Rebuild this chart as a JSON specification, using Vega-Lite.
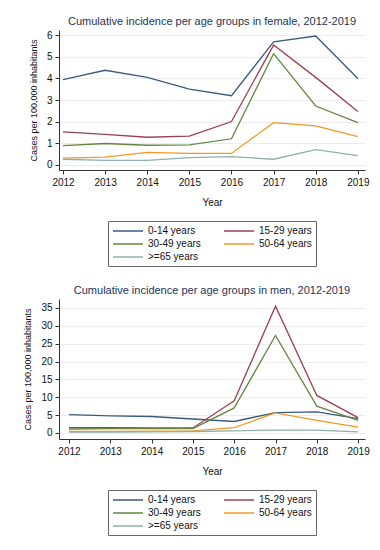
{
  "$schema": "https://vega.github.io/schema/vega-lite/v6.json",
  "padding": {"left": 23, "top": 16, "right": 10, "bottom": 5},
  "background": "white",
  "datasets": {
    "inc": [
      {"sex": "female", "year": 2012, "group": "0-14 years", "value": 3.95},
      {"sex": "female", "year": 2013, "group": "0-14 years", "value": 4.38},
      {"sex": "female", "year": 2014, "group": "0-14 years", "value": 4.05},
      {"sex": "female", "year": 2015, "group": "0-14 years", "value": 3.5},
      {"sex": "female", "year": 2016, "group": "0-14 years", "value": 3.2},
      {"sex": "female", "year": 2017, "group": "0-14 years", "value": 5.7},
      {"sex": "female", "year": 2018, "group": "0-14 years", "value": 5.97},
      {"sex": "female", "year": 2019, "group": "0-14 years", "value": 4.0},
      {"sex": "female", "year": 2012, "group": "15-29 years", "value": 1.52},
      {"sex": "female", "year": 2013, "group": "15-29 years", "value": 1.4},
      {"sex": "female", "year": 2014, "group": "15-29 years", "value": 1.27},
      {"sex": "female", "year": 2015, "group": "15-29 years", "value": 1.32},
      {"sex": "female", "year": 2016, "group": "15-29 years", "value": 2.0},
      {"sex": "female", "year": 2017, "group": "15-29 years", "value": 5.55},
      {"sex": "female", "year": 2018, "group": "15-29 years", "value": 4.05},
      {"sex": "female", "year": 2019, "group": "15-29 years", "value": 2.47},
      {"sex": "female", "year": 2012, "group": "30-49 years", "value": 0.88},
      {"sex": "female", "year": 2013, "group": "30-49 years", "value": 0.98},
      {"sex": "female", "year": 2014, "group": "30-49 years", "value": 0.9},
      {"sex": "female", "year": 2015, "group": "30-49 years", "value": 0.92},
      {"sex": "female", "year": 2016, "group": "30-49 years", "value": 1.2},
      {"sex": "female", "year": 2017, "group": "30-49 years", "value": 5.15},
      {"sex": "female", "year": 2018, "group": "30-49 years", "value": 2.72},
      {"sex": "female", "year": 2019, "group": "30-49 years", "value": 1.95},
      {"sex": "female", "year": 2012, "group": "50-64 years", "value": 0.3},
      {"sex": "female", "year": 2013, "group": "50-64 years", "value": 0.35},
      {"sex": "female", "year": 2014, "group": "50-64 years", "value": 0.57},
      {"sex": "female", "year": 2015, "group": "50-64 years", "value": 0.52},
      {"sex": "female", "year": 2016, "group": "50-64 years", "value": 0.52},
      {"sex": "female", "year": 2017, "group": "50-64 years", "value": 1.95},
      {"sex": "female", "year": 2018, "group": "50-64 years", "value": 1.8},
      {"sex": "female", "year": 2019, "group": "50-64 years", "value": 1.3},
      {"sex": "female", "year": 2012, "group": ">=65 years", "value": 0.25},
      {"sex": "female", "year": 2013, "group": ">=65 years", "value": 0.2},
      {"sex": "female", "year": 2014, "group": ">=65 years", "value": 0.2},
      {"sex": "female", "year": 2015, "group": ">=65 years", "value": 0.32},
      {"sex": "female", "year": 2016, "group": ">=65 years", "value": 0.37},
      {"sex": "female", "year": 2017, "group": ">=65 years", "value": 0.25},
      {"sex": "female", "year": 2018, "group": ">=65 years", "value": 0.7},
      {"sex": "female", "year": 2019, "group": ">=65 years", "value": 0.42},
      {"sex": "men", "year": 2012, "group": "0-14 years", "value": 5.1},
      {"sex": "men", "year": 2013, "group": "0-14 years", "value": 4.8},
      {"sex": "men", "year": 2014, "group": "0-14 years", "value": 4.6},
      {"sex": "men", "year": 2015, "group": "0-14 years", "value": 3.9},
      {"sex": "men", "year": 2016, "group": "0-14 years", "value": 3.2},
      {"sex": "men", "year": 2017, "group": "0-14 years", "value": 5.7},
      {"sex": "men", "year": 2018, "group": "0-14 years", "value": 5.9},
      {"sex": "men", "year": 2019, "group": "0-14 years", "value": 4.0},
      {"sex": "men", "year": 2012, "group": "15-29 years", "value": 1.5},
      {"sex": "men", "year": 2013, "group": "15-29 years", "value": 1.5},
      {"sex": "men", "year": 2014, "group": "15-29 years", "value": 1.4},
      {"sex": "men", "year": 2015, "group": "15-29 years", "value": 1.4},
      {"sex": "men", "year": 2016, "group": "15-29 years", "value": 9.0},
      {"sex": "men", "year": 2017, "group": "15-29 years", "value": 35.5},
      {"sex": "men", "year": 2018, "group": "15-29 years", "value": 10.5},
      {"sex": "men", "year": 2019, "group": "15-29 years", "value": 4.3},
      {"sex": "men", "year": 2012, "group": "30-49 years", "value": 1.1},
      {"sex": "men", "year": 2013, "group": "30-49 years", "value": 1.2},
      {"sex": "men", "year": 2014, "group": "30-49 years", "value": 1.2},
      {"sex": "men", "year": 2015, "group": "30-49 years", "value": 1.2},
      {"sex": "men", "year": 2016, "group": "30-49 years", "value": 7.0},
      {"sex": "men", "year": 2017, "group": "30-49 years", "value": 27.3},
      {"sex": "men", "year": 2018, "group": "30-49 years", "value": 7.5},
      {"sex": "men", "year": 2019, "group": "30-49 years", "value": 3.5},
      {"sex": "men", "year": 2012, "group": "50-64 years", "value": 0.4},
      {"sex": "men", "year": 2013, "group": "50-64 years", "value": 0.4},
      {"sex": "men", "year": 2014, "group": "50-64 years", "value": 0.5},
      {"sex": "men", "year": 2015, "group": "50-64 years", "value": 0.6},
      {"sex": "men", "year": 2016, "group": "50-64 years", "value": 1.5},
      {"sex": "men", "year": 2017, "group": "50-64 years", "value": 5.6},
      {"sex": "men", "year": 2018, "group": "50-64 years", "value": 3.5},
      {"sex": "men", "year": 2019, "group": "50-64 years", "value": 1.6},
      {"sex": "men", "year": 2012, "group": ">=65 years", "value": 0.2},
      {"sex": "men", "year": 2013, "group": ">=65 years", "value": 0.2},
      {"sex": "men", "year": 2014, "group": ">=65 years", "value": 0.3},
      {"sex": "men", "year": 2015, "group": ">=65 years", "value": 0.4},
      {"sex": "men", "year": 2016, "group": ">=65 years", "value": 0.6},
      {"sex": "men", "year": 2017, "group": ">=65 years", "value": 0.8},
      {"sex": "men", "year": 2018, "group": ">=65 years", "value": 0.8},
      {"sex": "men", "year": 2019, "group": ">=65 years", "value": 0.3}
    ]
  },
  "vconcat": [
    {
      "data": {"name": "inc"},
      "transform": [{"filter": "datum.sex === 'female'"}],
      "title": {"text": "Cumulative incidence per age groups in female, 2012-2019"},
      "width": 306,
      "height": 140,
      "mark": {"type": "line", "strokeWidth": 1.3, "clip": true},
      "encoding": {
        "x": {"field": "year", "type": "quantitative", "title": "Year",
              "scale": {"domain": [2011.905, 2019.17], "nice": false, "zero": false},
              "axis": {"values": [2012, 2013, 2014, 2015, 2016, 2017, 2018, 2019], "format": "d"}},
        "y": {"field": "value", "type": "quantitative", "title": "Cases per 100,000 inhabitants",
              "scale": {"domain": [-0.25, 6.25], "nice": false, "zero": false},
              "axis": {"values": [0, 1, 2, 3, 4, 5, 6]}},
        "color": {"field": "group", "type": "nominal", "title": null,
                  "sort": ["0-14 years", "15-29 years", "30-49 years", "50-64 years", ">=65 years"],
                  "scale": {"domain": ["0-14 years", "15-29 years", "30-49 years", "50-64 years", ">=65 years"],
                            "range": ["#3a5a7e", "#9c4050", "#658540", "#f09a25", "#8fb0ac"]}}
      }
    },
    {
      "data": {"name": "inc"},
      "transform": [{"filter": "datum.sex === 'men'"}],
      "title": {"text": "Cumulative incidence per age groups in men, 2012-2019"},
      "width": 306,
      "height": 140,
      "mark": {"type": "line", "strokeWidth": 1.3, "clip": true},
      "encoding": {
        "x": {"field": "year", "type": "quantitative", "title": "Year",
              "scale": {"domain": [2011.758, 2019.167], "nice": false, "zero": false},
              "axis": {"values": [2012, 2013, 2014, 2015, 2016, 2017, 2018, 2019], "format": "d"}},
        "y": {"field": "value", "type": "quantitative", "title": "Cases per 100,000 inhabitants",
              "scale": {"domain": [-1.7, 37.5], "nice": false, "zero": false},
              "axis": {"values": [0, 5, 10, 15, 20, 25, 30, 35]}},
        "color": {"field": "group", "type": "nominal", "title": null,
                  "sort": ["0-14 years", "15-29 years", "30-49 years", "50-64 years", ">=65 years"],
                  "scale": {"domain": ["0-14 years", "15-29 years", "30-49 years", "50-64 years", ">=65 years"],
                            "range": ["#3a5a7e", "#9c4050", "#658540", "#f09a25", "#8fb0ac"]}}
      }
    }
  ],
  "resolve": {"scale": {"color": "independent"}, "legend": {"color": "independent"}},
  "align": "none",
  "bounds": "full",
  "spacing": 18,
  "config": {
    "font": "Liberation Sans",
    "view": {"stroke": null},
    "title": {"fontSize": 11, "fontWeight": "normal", "color": "#1e3456", "anchor": "middle", "offset": 3},
    "axis": {
      "labelFont": "Liberation Sans", "labelFontSize": 10, "labelColor": "#111",
      "titleFont": "Liberation Sans", "titleFontSize": 10, "titleFontWeight": "normal", "titleColor": "#111",
      "domainColor": "#333", "tickColor": "#333", "tickSize": 4,
      "gridColor": "#ececec", "gridWidth": 1
    },
    "axisX": {"grid": false, "labelPadding": 3, "titlePadding": 10},
    "axisY": {"grid": true, "labelAngle": 0, "labelPadding": 3, "titlePadding": 8, "titleFontSize": 9},
    "legend": {
      "orient": "bottom", "columns": 2, "symbolType": "M-1,0H5", "symbolSize": 100,
      "symbolStrokeWidth": 1.5, "labelFontSize": 10, "labelFont": "Liberation Sans", "labelColor": "#111",
      "labelOffset": 24,
      "strokeColor": "#666", "fillColor": "white", "padding": 4, "columnPadding": 20, "rowPadding": 2,
      "offset": 14, "labelLimit": 200,
      "layout": {"bottom": {"anchor": "middle"}}
    }
  }
}
